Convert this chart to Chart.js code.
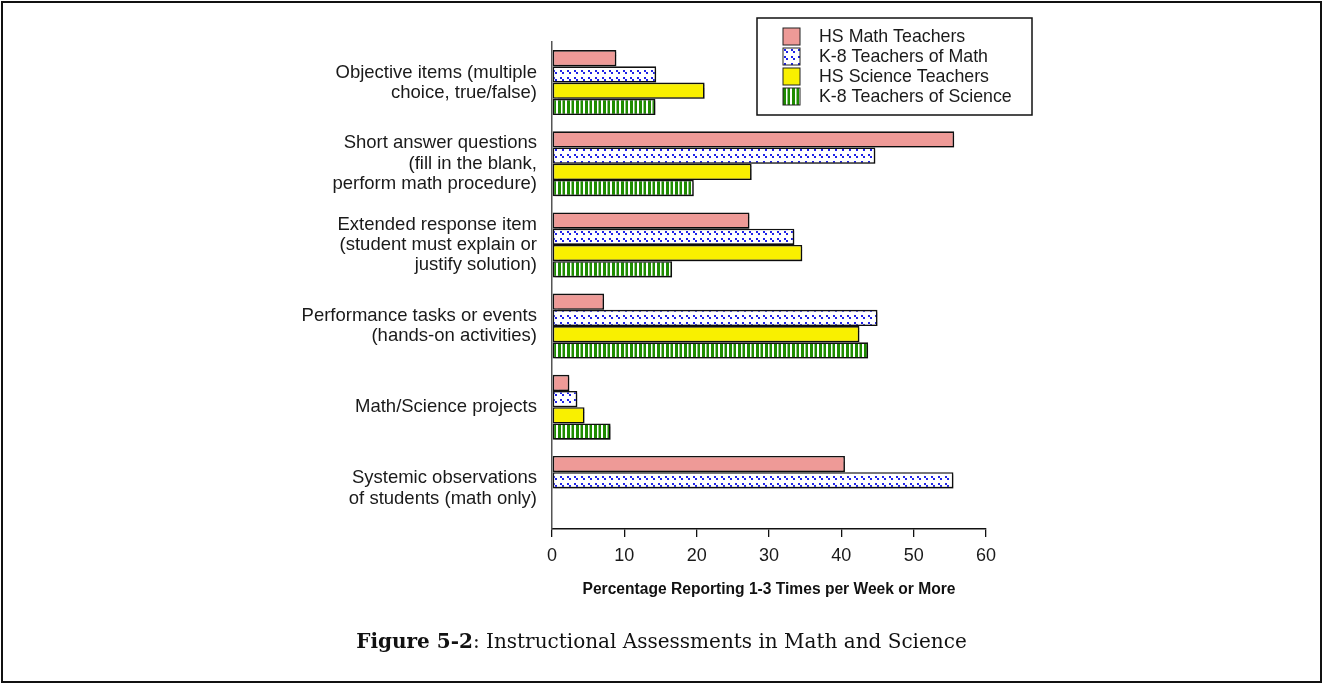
<!DOCTYPE html>
<html>
<head>
<meta charset="utf-8">
<script src="https://cdn.jsdelivr.net/npm/chart.js@4.4.1/dist/chart.umd.min.js"></script>
<style>
    html, body { margin: 0; padding: 0; background: #fff; }
    #marco { position: relative; width: 1323px; height: 684px; overflow: hidden; }
    #borde { position: absolute; left: 1px; top: 1px; right: 1px; bottom: 1px; border: 2px solid #111; }
    #grafico { position: absolute; left: 0; top: 0; }
    #leyenda {
        position: absolute; left: 0; width: 1323px; top: 629px; text-align: center;
        font-family: 'DejaVu Serif', serif; font-size: 20px; color: #111;
    }
</style>
</head>
<body>
<div id="marco">
    <div id="borde"></div>
    <canvas id="grafico" width="1323" height="684"></canvas>
    <div id="leyenda"><b>Figure 5-2</b>: Instructional Assessments in Math and Science</div>
</div>
<script>
const categorias = [
    ['Objective items (multiple', 'choice, true/false)'],
    ['Short answer questions', '(fill in the blank,', 'perform math procedure)'],
    ['Extended response item', '(student must explain or', 'justify solution)'],
    ['Performance tasks or events', '(hands-on activities)'],
    ['Math/Science projects'],
    ['Systemic observations', 'of students (math only)']
];
const nombresSeries = ['HS Math Teachers', 'K-8 Teachers of Math', 'HS Science Teachers', 'K-8 Teachers of Science'];
const hsMath = [8.9, 55.6, 27.3, 7.2, 2.4, 40.5];
const k8Math = [14.4, 44.7, 33.5, 45.0, 3.5, 55.5];
const hsScience = [21.1, 27.6, 34.6, 42.5, 4.5, null];
const k8Science = [14.3, 19.6, 16.6, 43.7, 8.1, null];
const ticksX = [0, 10, 20, 30, 40, 50, 60];
const tituloX = 'Percentage Reporting 1-3 Times per Week or More';

const fuente = "'Liberation Sans', Arial, sans-serif";

// patrones de relleno (diagonal azul y franjas verdes)
function patronDiagonal() {
    const c = document.createElement('canvas');
    c.width = 7; c.height = 7;
    const ctx = c.getContext('2d');
    ctx.fillStyle = '#fff';
    ctx.fillRect(0, 0, 7, 7);
    ctx.fillStyle = '#1f22e8';
    ctx.fillRect(0, 0, 2, 2);
    ctx.fillRect(2, 2, 2, 2);
    return ctx.createPattern(c, 'repeat');
}

function patronFranjas() {
    const c = document.createElement('canvas');
    c.width = 9; c.height = 4;
    const ctx = c.getContext('2d');
    ctx.fillStyle = '#fff';
    ctx.fillRect(0, 0, 9, 4);
    ctx.fillStyle = '#1e8c00';
    ctx.fillRect(0, 0, 3, 4);
    ctx.fillRect(4.5, 0, 2.5, 4);
    return ctx.createPattern(c, 'repeat');
}

const rellenos = ['#ee9a97', patronDiagonal(), '#f9f000', patronFranjas()];
const valores = [hsMath, k8Math, hsScience, k8Science];

const sombra = {
    id: 'sombra',
    beforeDatasetsDraw(chart) {
        const ctx = chart.ctx;
        ctx.save();
        ctx.shadowColor = 'rgba(0,0,0,0.3)';
        ctx.shadowOffsetX = 2;
        ctx.shadowOffsetY = 2;
        ctx.shadowBlur = 1;
    },
    afterDatasetsDraw(chart) {
        chart.ctx.restore();
    }
};

// caja de leyenda arriba a la derecha
const cajaLeyenda = {
    id: 'cajaLeyenda',
    afterDraw(chart) {
        const ctx = chart.ctx;
        ctx.save();
        ctx.fillStyle = '#fff';
        ctx.fillRect(757, 18, 275, 97);
        ctx.strokeStyle = '#111';
        ctx.lineWidth = 1.5;
        ctx.strokeRect(757, 18, 275, 97);
        ctx.font = '17.8px ' + fuente;
        ctx.textBaseline = 'middle';
        nombresSeries.forEach((nombre, i) => {
            const y = 36.5 + i * 20;
            ctx.fillStyle = rellenos[i];
            ctx.fillRect(783, y - 8.5, 17, 17);
            ctx.strokeStyle = '#222';
            ctx.lineWidth = 1;
            ctx.strokeRect(783, y - 8.5, 17, 17);
            ctx.fillStyle = '#1a1a1a';
            ctx.fillText(nombre, 819, y + 1);
        });
        ctx.restore();
    }
};

const datasets = nombresSeries.map((nombre, i) => ({
    label: nombre,
    data: valores[i],
    backgroundColor: rellenos[i],
    borderColor: '#111',
    borderWidth: 1.6,
    borderSkipped: false,
    categoryPercentage: 0.8,
    barPercentage: 1.0
}));

new Chart(document.getElementById('grafico'), {
    type: 'bar',
    data: { labels: categorias, datasets: datasets },
    options: {
        indexAxis: 'y',
        responsive: false,
        animation: false,
        layout: { padding: { top: 42, right: 337, left: 0, bottom: 0 } },
        plugins: {
            legend: { display: false },
            tooltip: { enabled: false }
        },
        scales: {
            x: {
                min: 0,
                max: 60,
                afterFit(scale) { scale.height = 155; },
                afterBuildTicks(scale) { scale.ticks = ticksX.map(v => ({ value: v })); },
                ticks: { color: '#1a1a1a', font: { family: fuente, size: 18 }, padding: 8 },
                grid: { display: true, drawOnChartArea: false, drawTicks: true, tickLength: 8, color: '#111', lineWidth: 1.3 },
                border: { display: true, color: '#111', width: 1.5 },
                title: {
                    display: true,
                    text: tituloX,
                    color: '#111',
                    font: { family: fuente, size: 15.6, weight: 'bold' },
                    padding: { top: 4, bottom: 85 }
                }
            },
            y: {
                afterFit(scale) { scale.width = 552; },
                ticks: { color: '#1a1a1a', font: { family: fuente, size: 18.5, lineHeight: 1.1 }, padding: 15 },
                grid: { display: false, drawTicks: false },
                border: { display: true, color: '#555', width: 1.5 }
            }
        }
    },
    plugins: [sombra, cajaLeyenda]
});
</script>
</body>
</html>
